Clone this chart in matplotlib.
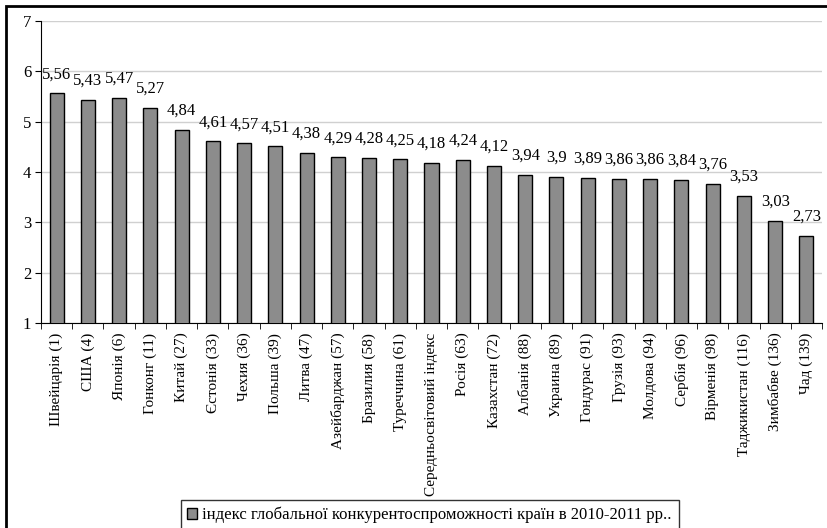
import numpy as np
import matplotlib.pyplot as plt
from matplotlib.patches import Rectangle

plt.rcParams['font.family'] = ['Liberation Serif', 'DejaVu Serif']

countries = ['Швейцарія (1)', 'США (4)', 'Японія (6)', 'Гонконг (11)', 'Китай (27)',
             'Єстонія (33)', 'Чехия (36)', 'Польша (39)', 'Литва (47)', 'Азейбарджан (57)',
             'Бразилия (58)', 'Туреччина (61)', 'Середньосвітовий індекс', 'Росія (63)',
             'Казахстан (72)', 'Албанія (88)', 'Украина (89)', 'Гондурас (91)', 'Грузія (93)',
             'Молдова (94)', 'Сербія (96)', 'Вірменія (98)', 'Таджикистан (116)',
             'Зимбабве (136)', 'Чад (139)']
values = [5.56, 5.43, 5.47, 5.27, 4.84, 4.61, 4.57, 4.51, 4.38, 4.29, 4.28, 4.25, 4.18,
          4.24, 4.12, 3.94, 3.9, 3.89, 3.86, 3.86, 3.84, 3.76, 3.53, 3.03, 2.73]
legend_label = 'індекс глобальної конкурентоспроможності країн в 2010-2011 рр..'

fig = plt.figure(figsize=(8.28, 5.28), dpi=100)
ax = fig.add_axes([41/828, 1 - 323/528, 781/828, 302/528])

x = np.arange(len(values))
bars = ax.bar(x, values, width=0.45, color='#8c8c8c', edgecolor='black',
              linewidth=1, label=legend_label, zorder=3)

for xi, v in zip(x, values):
    ax.annotate(str(v).replace('.', ','), (xi, v), xytext=(0, 8), textcoords='offset points',
                ha='center', va='bottom', fontsize=12)

ax.set_ylim(1, 7)
ax.set_xlim(-0.5, len(values) - 0.5)
ax.set_yticks(range(1, 8))
ax.tick_params(axis='y', labelsize=12, direction='out', length=4, pad=3)
ax.yaxis.grid(True, color='#d0d0d0', linewidth=1, zorder=0)

ax.set_xticks(x)
ax.set_xticklabels(countries, rotation=90, fontsize=11)
ax.tick_params(axis='x', which='major', length=0, pad=7)
ax.set_xticks(np.arange(len(values) + 1) - 0.5, minor=True)
ax.tick_params(axis='x', which='minor', length=4, direction='out')

for s in ['top', 'right']:
    ax.spines[s].set_visible(False)

fig.legend(handles=[bars], labels=[legend_label], loc='upper center',
           bbox_to_anchor=(0.519, 1 - 500/528), fontsize=12, frameon=True, fancybox=False,
           edgecolor='black', handlelength=0.6, handleheight=0.6, handletextpad=0.3,
           borderpad=0.4, borderaxespad=0)

# outer chart frame (right and bottom edges fall outside the image)
fig.patches.append(Rectangle((6/828, -0.1), 1.2, 1 - 6/528 + 0.1, transform=fig.transFigure,
                             fill=False, edgecolor='black', linewidth=2))

fig.savefig('out.png', dpi=100)
